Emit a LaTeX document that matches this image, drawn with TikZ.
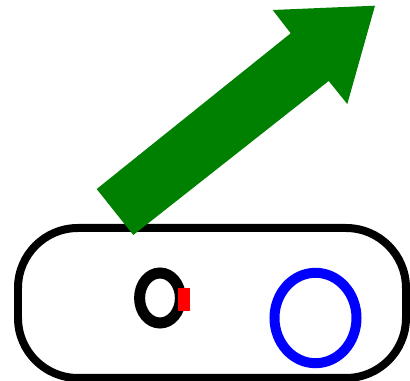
\documentclass[tikz,border=0pt]{standalone}
\usepackage{xcolor}
\definecolor{arrowgreen}{RGB}{0,128,0}
\definecolor{ringblue}{RGB}{0,0,255}
\definecolor{tabred}{RGB}{255,0,0}
\usepackage{tikz}

\begin{document}
\begin{tikzpicture}[
  x=0.02cm, y=-0.02cm,
  pill/.style={draw=black, line width=0.16cm, rounded corners=1.2cm},
  ring/.style={draw=black, line width=0.22cm},
  lens/.style={draw=ringblue, line width=0.2cm},
  bigarrow/.style={fill=arrowgreen, draw=none}
]
\useasboundingbox (0,0) rectangle (410,381);

% body
\draw[pill] (18,228) rectangle (406,378);
\draw[ring] (160,298) ellipse [x radius=20.4, y radius=25];
\fill[tabred] (178,288) rectangle (190,311);
\draw[lens] (315.5,318) ellipse [x radius=41, y radius=45.2];

% arrow
\fill[bigarrow] (96.7,189) -- (290.7,33.3) -- (272.7,10) -- (375,5.7)
  -- (347.3,104) -- (328.7,81) -- (133.3,235) -- cycle;
\end{tikzpicture}
\end{document}
